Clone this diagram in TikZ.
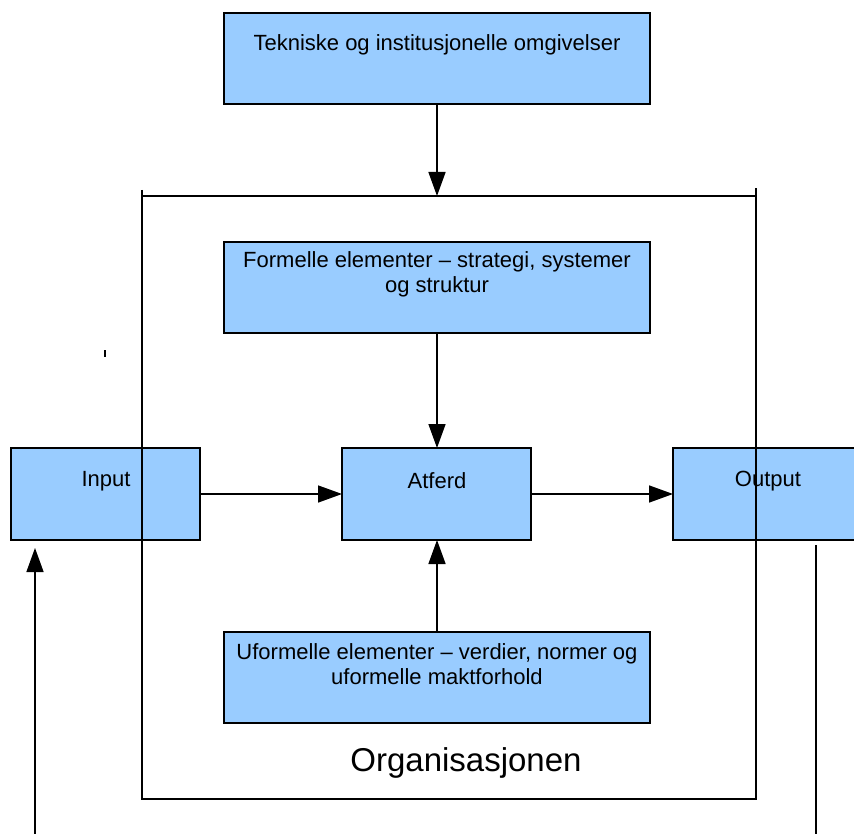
\documentclass[tikz,border=0pt]{standalone}
\usepackage{fontspec}
\setmainfont{Liberation Sans}
\usetikzlibrary{arrows.meta}
\definecolor{boxblue}{RGB}{153,204,255}
\begin{document}
\begin{tikzpicture}[x=1pt,y=-1pt,
  blk/.style={draw=black,line width=1.3pt,fill=boxblue},
  lbl/.style={font=\fontsize{22}{25}\selectfont,align=center,inner sep=0pt},
  ln/.style={line width=1.5pt},
  arr/.style={line width=1.5pt,-{Triangle[length=24pt,width=17pt]}}]
\useasboundingbox (0,0) rectangle (854,834);
\clip (0,0) rectangle (854,834);
% frame
\draw[ln] (142,190) -- (142,799) -- (756,799) -- (756,188);
\draw[ln] (142,196) -- (756,196);
\coordinate (ftop) at (437,196);
% boxes
\draw[blk] (224,13) rectangle (650,104);
\coordinate (topb) at (437,104);
\node[lbl] (toptxt) at (437,45) {Tekniske og institusjonelle omgivelser};
\draw[blk] (224,242) rectangle (650,333);
\coordinate (formb) at (437,333);
\node[lbl] (formtxt) at (437,274) {Formelle elementer – strategi, systemer\\og struktur};
\draw[blk] (342,448) rectangle (531,540);
\coordinate (atft) at (437,448);
\coordinate (atfb) at (437,540);
\coordinate (atfl) at (342,494);
\coordinate (atfr) at (531,494);
\node[lbl] (atftxt) at (437,481) {Atferd};
\draw[blk] (11,448) rectangle (200,540);
\coordinate (inr) at (200,494);
\node[lbl] (intxt) at (106,481) {Input};
\draw[blk] (673,448) rectangle (862,540);
\coordinate (outl) at (673,494);
\node[lbl] (outtxt) at (768,481) {Output};
\draw[blk] (224,632) rectangle (650,723);
\coordinate (uft) at (437,632);
\node[lbl] (uftxt) at (437,664) {Uformelle elementer – verdier, normer og\\uformelle maktforhold};
% frame lines over boxes
\draw[line width=1.3pt] (142,448) -- (142,540);
\draw[line width=1.3pt] (756,448) -- (756,540);
% label
\node[font=\fontsize{33}{38}\selectfont,inner sep=0pt] (org) at (466,763) {Organisasjonen};
% arrows
\draw[arr] (topb) -- (ftop);
\draw[arr] (formb) -- (atft);
\draw[arr] (uft) -- (atfb);
\draw[arr] (inr) -- (atfl);
\draw[arr] (atfr) -- (outl);
\coordinate (lb) at (35,834);
\coordinate (lt) at (35,548);
\draw[arr] (lb) -- (lt);
\coordinate (rb) at (816,834);
\coordinate (rt) at (816,545);
\draw[ln] (rt) -- (rb);
\coordinate (m1) at (105,350);
\coordinate (m2) at (105,357);
\draw[line width=2pt] (m1) -- (m2);
\end{tikzpicture}
\end{document}
